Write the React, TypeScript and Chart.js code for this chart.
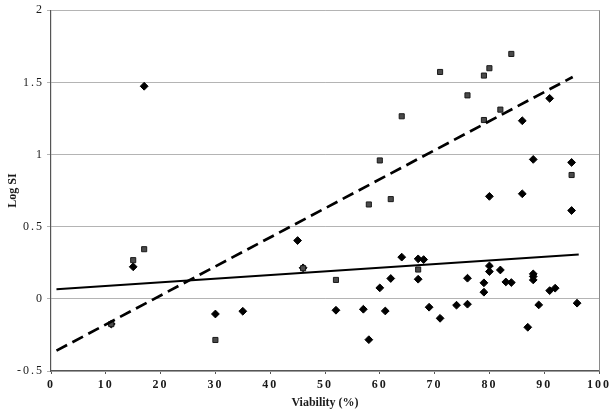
import React, { useEffect, useRef } from "react";
import { Chart, registerables } from "chart.js";

Chart.register(...registerables);

// Series 1: squares
const squareX = [11, 15, 17, 30, 46, 52, 58, 60, 62, 64, 67, 71, 76, 79, 79, 80, 82, 84, 95];
const squareY = [-0.175, 0.268, 0.344, -0.285, 0.212, 0.131, 0.654, 0.959, 0.691, 1.265, 0.203, 1.572, 1.41, 1.547, 1.239, 1.598, 1.311, 1.697, 0.858];

// Series 2: diamonds
const diamondX = [11, 15, 17, 30, 35, 45, 46, 52, 57, 58, 60, 61, 62, 64, 67, 67, 68, 69, 71, 74, 76, 76, 79, 79, 80, 80, 80, 82, 83, 84, 86, 86, 87, 88, 88, 88, 88, 89, 91, 91, 92, 95, 95, 96];
const diamondY = [-0.175, 0.222, 1.473, -0.105, -0.086, 0.404, 0.215, -0.079, -0.072, -0.283, 0.076, -0.084, 0.141, 0.289, 0.277, 0.136, 0.272, -0.058, -0.135, -0.044, 0.143, -0.037, 0.111, 0.046, 0.228, 0.189, 0.71, 0.2, 0.117, 0.113, 1.234, 0.728, -0.197, 0.966, 0.173, 0.155, 0.131, -0.042, 1.389, 0.057, 0.074, 0.945, 0.612, -0.03];

// Trend lines (endpoints)
const dashedTrendX = [1, 95.2];
const dashedTrendY = [-0.359, 1.537];
const solidTrendX = [1, 96.3];
const solidTrendY = [0.067, 0.307];

// Axis ticks
const xTicks = [0, 10, 20, 30, 40, 50, 60, 70, 80, 90, 100];
const yTicks = [-0.5, 0, 0.5, 1, 1.5, 2];

const zip = (xs: number[], ys: number[]) => xs.map((x, i) => ({ x, y: ys[i] }));

const framePlugin = {
  id: "frame",
  beforeDraw(chart: any) {
    chart.ctx.letterSpacing = "0px";
  },
  afterDatasetsDraw(chart: any) {
    const { ctx, chartArea } = chart;
    ctx.save();
    ctx.strokeStyle = "#8a8a8a";
    ctx.lineWidth = 1;
    ctx.beginPath();
    ctx.moveTo(chartArea.right + 0.5, chartArea.top);
    ctx.lineTo(chartArea.right + 0.5, chartArea.bottom);
    ctx.stroke();
    ctx.restore();
    // tick labels (drawn after this hook) get the wide tracking seen in the reference
    ctx.letterSpacing = "2px";
  },
  afterDraw(chart: any) {
    chart.ctx.letterSpacing = "0px";
  },
};

export default function App() {
  const ref = useRef<HTMLCanvasElement | null>(null);

  useEffect(() => {
    if (!ref.current) return;
    const font = "'Liberation Serif', 'Times New Roman', serif";
    const chart = new Chart(ref.current, {
      type: "scatter",
      data: {
        datasets: [
          {
            type: "line",
            data: zip(dashedTrendX, dashedTrendY),
            borderColor: "#000",
            borderWidth: 2.7,
            borderDash: [12, 6],
            pointRadius: 0,
            fill: false,
            order: 1,
          } as any,
          {
            type: "line",
            data: zip(solidTrendX, solidTrendY),
            borderColor: "#000",
            borderWidth: 2,
            pointRadius: 0,
            fill: false,
            order: 1,
          } as any,
          {
            data: zip(squareX, squareY),
            pointStyle: "rect",
            pointRadius: 3.6,
            backgroundColor: "#4a4a4a",
            borderColor: "#1a1a1a",
            borderWidth: 1,
            order: 2,
          },
          {
            data: zip(diamondX, diamondY),
            pointStyle: "rectRot",
            pointRadius: 3.9,
            backgroundColor: "#000",
            borderColor: "#000",
            borderWidth: 1,
            order: 3,
          },
        ],
      },
      options: {
        animation: false,
        responsive: true,
        maintainAspectRatio: false,
        layout: { padding: { top: 10, right: 15, left: 0, bottom: 0 } },
        plugins: { legend: { display: false }, tooltip: { enabled: false } },
        scales: {
          x: {
            type: "linear",
            min: 0,
            max: 100,
            afterBuildTicks: (s: any) => {
              s.ticks = xTicks.map((v) => ({ value: v }));
            },
            afterFit: (s: any) => {
              s.height = 43;
            },
            ticks: {
              z: 1,
              color: "#1a1a1a",
              font: { family: font, size: 12, weight: "bold" },
              padding: 4,
              maxRotation: 0,
              callback: (v: any) => String(v),
            },
            grid: { drawOnChartArea: false, drawTicks: true, tickLength: 3, color: "#555" },
            border: { color: "#555", width: 1.2 },
            title: {
              display: true,
              text: "Viability (%)",
              color: "#1a1a1a",
              font: { family: font, size: 12, weight: "bold" },
              padding: { top: 0, bottom: 4 },
            },
          },
          y: {
            type: "linear",
            min: -0.5,
            max: 2,
            afterBuildTicks: (s: any) => {
              s.ticks = yTicks.map((v) => ({ value: v }));
            },
            afterFit: (s: any) => {
              s.width = 51;
            },
            ticks: {
              z: 1,
              color: "#1a1a1a",
              font: { family: font, size: 12 },
              padding: 3,
              callback: (v: any) => String(v),
            },
            grid: { color: "#b4b4b4", tickLength: 4, lineWidth: 1 },
            border: { color: "#555", width: 1.2 },
            title: {
              display: true,
              text: "Log SI",
              color: "#1a1a1a",
              font: { family: font, size: 12, weight: "bold" },
              padding: { top: 6, bottom: 0 },
            },
          },
        },
      },
      plugins: [framePlugin],
    });
    return () => chart.destroy();
  }, []);

  return (
    <div style={{ position: "absolute", left: 0, top: 0, width: 614, height: 414, background: "#fff" }}>
      <canvas ref={ref} style={{ width: "100%", height: "100%" }} />
    </div>
  );
}
